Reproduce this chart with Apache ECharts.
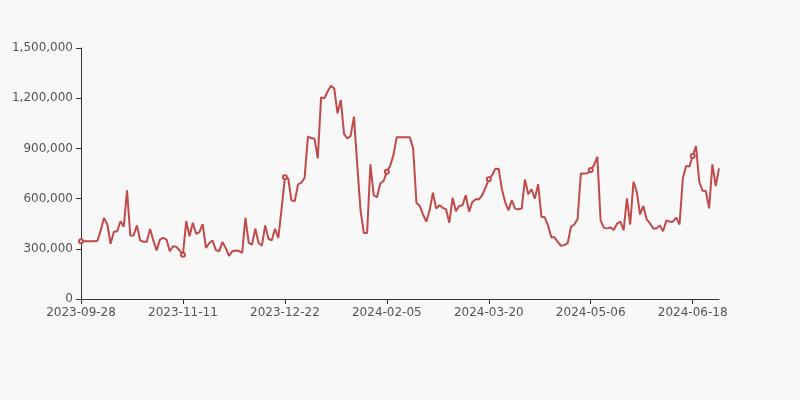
<!DOCTYPE html>
<html>
<head>
<meta charset="utf-8">
<script src="https://cdn.jsdelivr.net/npm/echarts@6/dist/echarts.min.js"></script>
<style>
html,body{margin:0;padding:0;background:#f8f8f8;}
#chart{width:800px;height:400px;}
</style>
</head>
<body>
<div id="chart"></div>
<script>
var dates = [
"2023-09-28",
"2023-10-02","2023-10-03","2023-10-04","2023-10-05","2023-10-06",
"2023-10-09","2023-10-10","2023-10-11","2023-10-12","2023-10-13",
"2023-10-16","2023-10-17","2023-10-18","2023-10-19","2023-10-20",
"2023-10-23","2023-10-24","2023-10-25","2023-10-26","2023-10-27",
"2023-10-30","2023-10-31","2023-11-01","2023-11-02","2023-11-03",
"2023-11-06","2023-11-07","2023-11-08","2023-11-09","2023-11-10",
"2023-11-11",
"2023-11-13","2023-11-14","2023-11-15","2023-11-16","2023-11-17",
"2023-11-20","2023-11-21","2023-11-22","2023-11-23","2023-11-24","2023-11-25",
"2023-11-27","2023-11-28","2023-11-29","2023-11-30","2023-12-01",
"2023-12-04","2023-12-05","2023-12-06","2023-12-07","2023-12-08",
"2023-12-11","2023-12-12","2023-12-13","2023-12-14","2023-12-15",
"2023-12-18","2023-12-19","2023-12-20","2023-12-21","2023-12-22",
"2023-12-25","2023-12-26","2023-12-27","2023-12-28","2023-12-29",
"2024-01-01","2024-01-02","2024-01-03","2024-01-04","2024-01-05",
"2024-01-08","2024-01-09","2024-01-10","2024-01-11","2024-01-12",
"2024-01-15","2024-01-16","2024-01-17","2024-01-18","2024-01-19",
"2024-01-22","2024-01-23","2024-01-24","2024-01-25","2024-01-26",
"2024-01-29","2024-01-30","2024-01-31","2024-02-01","2024-02-02",
"2024-02-05",
"2024-02-06","2024-02-07","2024-02-08","2024-02-09",
"2024-02-13","2024-02-14","2024-02-15","2024-02-16",
"2024-02-19","2024-02-20","2024-02-21","2024-02-22","2024-02-23",
"2024-02-26","2024-02-27","2024-02-28","2024-02-29","2024-03-01",
"2024-03-04","2024-03-05","2024-03-06","2024-03-07","2024-03-08",
"2024-03-11","2024-03-12","2024-03-13","2024-03-14","2024-03-15",
"2024-03-18","2024-03-19","2024-03-20",
"2024-03-21","2024-03-22",
"2024-03-25","2024-03-26","2024-03-27","2024-03-28","2024-03-29",
"2024-04-01","2024-04-02","2024-04-03",
"2024-04-08","2024-04-09","2024-04-10","2024-04-11","2024-04-12",
"2024-04-15","2024-04-16","2024-04-17","2024-04-18","2024-04-19",
"2024-04-22","2024-04-23","2024-04-24","2024-04-25","2024-04-26",
"2024-04-29","2024-04-30","2024-05-01","2024-05-02","2024-05-03",
"2024-05-06",
"2024-05-07","2024-05-08","2024-05-09","2024-05-10",
"2024-05-13","2024-05-14","2024-05-15","2024-05-16","2024-05-17",
"2024-05-20","2024-05-21","2024-05-22","2024-05-23","2024-05-24",
"2024-05-27","2024-05-28","2024-05-29","2024-05-30","2024-05-31",
"2024-06-03","2024-06-04","2024-06-05","2024-06-06","2024-06-07",
"2024-06-10","2024-06-11","2024-06-12","2024-06-13","2024-06-14",
"2024-06-17","2024-06-18",
"2024-06-19","2024-06-20","2024-06-21",
"2024-06-24","2024-06-25","2024-06-26","2024-06-27","2024-06-28"
];

var values = [
345000,345000,345000,345000,345000,348000,410000,485000,445000,330000,
402000,405000,465000,432000,650000,378000,380000,440000,350000,342000,
342000,418000,350000,290000,355000,365000,355000,285000,315000,312000,
290000,265000,465000,375000,455000,390000,400000,448000,305000,335000,
350000,292000,285000,340000,305000,258000,285000,290000,288000,275000,
485000,335000,325000,420000,335000,318000,440000,360000,350000,420000,
365000,540000,727000,722000,588000,586000,685000,695000,725000,970000,
962000,958000,840000,1205000,1200000,1240000,1275000,1258000,1110000,1190000,
985000,960000,975000,1090000,800000,530000,395000,395000,805000,620000,
608000,690000,705000,760000,795000,860000,966000,966000,966000,966000,
966000,900000,575000,556000,505000,462000,530000,635000,540000,560000,
545000,536000,456000,605000,525000,556000,560000,621000,522000,580000,
596000,596000,620000,665000,715000,740000,778000,777000,655000,578000,
530000,590000,540000,536000,540000,715000,626000,656000,600000,686000,
492000,488000,440000,369000,369000,340000,318000,322000,335000,432000,
445000,478000,750000,750000,752000,771000,800000,850000,470000,425000,
422000,428000,412000,450000,462000,412000,602000,445000,701000,641000,
505000,556000,476000,452000,422000,422000,440000,405000,470000,462000,
462000,486000,445000,720000,795000,792000,855000,914000,700000,647000,
645000,542000,805000,675000,781000
];

var yTicks = [0, 300000, 600000, 900000, 1200000, 1500000];

var chart = echarts.init(document.getElementById('chart'), null, {renderer: 'canvas'});
var font = 'DejaVu Sans, sans-serif';
chart.setOption({
  backgroundColor: '#f8f8f8',
  animation: false,
  grid: {left: 81, right: 81, top: 48, bottom: 101, containLabel: false},
  xAxis: {
    type: 'category',
    data: dates,
    boundaryGap: false,
    axisLine: {show: true, lineStyle: {color: '#333'}},
    axisTick: {show: true, interval: 30, lineStyle: {color: '#333'}},
    axisLabel: {interval: 30, color: '#555', fontSize: 12, fontFamily: font, margin: 8}
  },
  yAxis: {
    type: 'value',
    min: yTicks[0],
    max: yTicks[yTicks.length - 1],
    interval: 300000,
    axisLine: {show: true, lineStyle: {color: '#333'}},
    axisTick: {show: true, lineStyle: {color: '#333'}},
    splitLine: {show: false},
    axisLabel: {
      color: '#555', fontSize: 12, fontFamily: font, margin: 8,
      formatter: function (v) { return v.toLocaleString('en-US'); }
    }
  },
  series: [{
    type: 'line',
    data: values,
    symbol: 'emptyCircle',
    symbolSize: 4,
    showSymbol: true,
    lineStyle: {color: '#c14a4a', width: 2},
    itemStyle: {color: '#c14a4a'}
  }]
});
</script>
</body>
</html>
